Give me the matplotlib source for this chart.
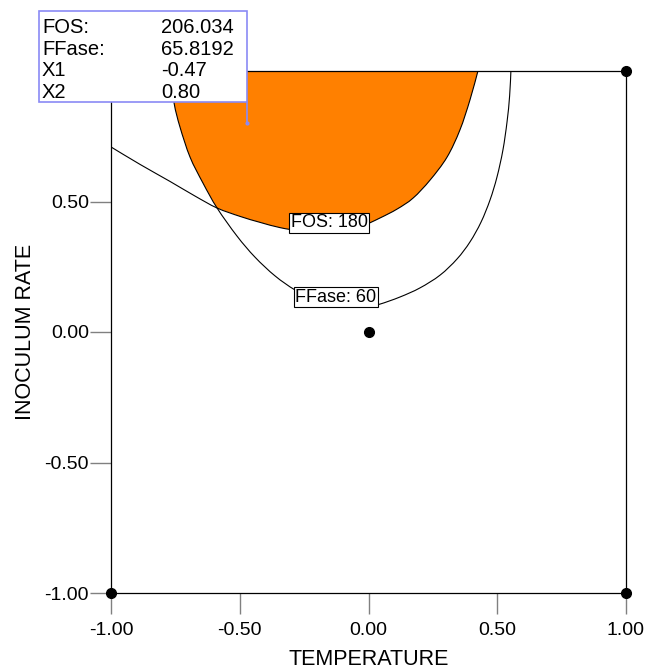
import numpy as np
import matplotlib.pyplot as plt
from matplotlib.patches import Rectangle, PathPatch
from matplotlib.path import Path

plt.rcParams['font.family'] = ['Liberation Sans', 'DejaVu Sans']

# contour FOS = 180
fos_x = [-1.0, -0.887, -0.771, -0.674, -0.588, -0.499, -0.421, -0.344, -0.266, -0.188,
         -0.111, -0.033, 0.045, 0.111, 0.173, 0.239, 0.305, 0.355, 0.394, 0.425]
fos_y = [0.709, 0.642, 0.577, 0.521, 0.475, 0.443, 0.420, 0.400, 0.387, 0.379,
         0.381, 0.402, 0.437, 0.471, 0.513, 0.582, 0.670, 0.774, 0.889, 1.0]

# contour FFase = 60
ffase_x = [-0.771, -0.755, -0.732, -0.693, -0.643, -0.588, -0.511, -0.441, -0.363,
           -0.285, -0.208, -0.130, -0.052, 0.006, 0.045, 0.122, 0.200, 0.278, 0.344,
           0.394, 0.437, 0.472, 0.499, 0.522, 0.538, 0.548, 0.553]
ffase_y = [1.0, 0.877, 0.785, 0.670, 0.571, 0.475, 0.368, 0.287, 0.215,
           0.161, 0.126, 0.103, 0.096, 0.100, 0.107, 0.134, 0.169, 0.218, 0.280,
           0.345, 0.421, 0.506, 0.594, 0.697, 0.805, 0.904, 1.0]

# design points
design_x = [-1.0, 1.0, 1.0, 0.0, -1.0]
design_y = [-1.0, -1.0, 1.0, 0.0, 1.0]

# contour labels
contour_labels = ["FOS: 180", "FFase: 60"]
contour_label_x = [-0.153, -0.126]
contour_label_y = [0.418, 0.134]

# flag
flag_x1 = -0.47
flag_x2 = 0.80
flag_names = ["FOS:", "FFase:", "X1", "X2"]
flag_values = ["206.034", "65.8192", "-0.47", "0.80"]

ticks = [-1.0, -0.5, 0.0, 0.5, 1.0]
x_tick_labels = ["-1.00", "-0.50", "0.00", "0.50", "1.00"]
y_tick_labels = ["-1.00", "-0.50", "0.00", "0.50", ""]  # 1.00 sits under the flag


def smooth_path(xs, ys):
    # bezier through the read points (catmull-rom), only for drawing
    p = np.column_stack([xs, ys])
    ext = np.vstack([p[0], p, p[-1]])
    verts = [p[0]]
    codes = [Path.MOVETO]
    for i in range(len(p) - 1):
        a, b, c, d = ext[i], ext[i + 1], ext[i + 2], ext[i + 3]
        verts += [b + (c - a) / 6, c - (d - b) / 6, c]
        codes += [Path.CURVE4] * 3
    return verts, codes


fig = plt.figure(figsize=(6.6, 6.69), dpi=100)
W, H = 660, 669
ax = fig.add_axes([111 / W, 1 - 593 / H, 515 / W, 522 / H])
ax.set_xlim(-1, 1)
ax.set_ylim(-1, 1)

# feasible region: inside FFase curve, above FOS curve
v1, c1 = smooth_path(ffase_x[:6], ffase_y[:6])
v2, c2 = smooth_path(fos_x[4:], fos_y[4:])
verts = v1 + v2[1:] + [v1[0]]
codes = c1 + c2[1:] + [Path.CLOSEPOLY]
ax.add_patch(PathPatch(Path(verts, codes), facecolor='#ff8000', edgecolor='none', zorder=1))

for xs, ys in [(fos_x, fos_y), (ffase_x, ffase_y)]:
    v, c = smooth_path(xs, ys)
    ax.add_patch(PathPatch(Path(v, c), facecolor='none', edgecolor='black', lw=0.8, zorder=3))

for lab, lx, ly in zip(contour_labels, contour_label_x, contour_label_y):
    ax.text(lx, ly, lab, fontsize=13, ha='center', va='center', zorder=4,
            bbox=dict(boxstyle='square,pad=0.1', facecolor='white',
                      edgecolor='black', lw=0.8))

ax.plot(design_x, design_y, 'o', color='black', ms=7, clip_on=False, zorder=5)

ax.set_xticks(ticks)
ax.set_xticklabels(x_tick_labels)
ax.set_yticks(ticks)
ax.set_yticklabels(y_tick_labels)
ax.tick_params(direction='out', length=15, width=1, color='#808080', labelsize=14)
ax.tick_params(axis='x', pad=6)
ax.tick_params(axis='y', pad=1)
for s in ax.spines.values():
    s.set_linewidth(0.9)

ax.set_xlabel("TEMPERATURE", fontsize=15.5, labelpad=7)
ax.set_ylabel("INOCULUM RATE", fontsize=15.5, labelpad=6)

# flag box, right edge on the flagged point
px_per_x = 515 / 2.0
px_per_y = 522 / 2.0
box_left = flag_x1 - (246 - 38) / px_per_x
box_bottom = 1.0 + (71 - 102) / px_per_y
box_top = 1.0 + (71 - 11) / px_per_y
flag_col = '#8a8af5'
ax.add_patch(Rectangle((box_left, box_bottom), flag_x1 - box_left, box_top - box_bottom,
                       facecolor='white', edgecolor=flag_col, lw=1.2,
                       clip_on=False, zorder=10))
ax.plot([flag_x1, flag_x1], [flag_x2, box_bottom], color=flag_col, lw=1.2,
        clip_on=False, zorder=10)
ax.plot([flag_x1], [flag_x2], 'o', color=flag_col, ms=2, zorder=10)

for i, (n, v) in enumerate(zip(flag_names, flag_values)):
    yb = 1 - (33 + 21.7 * i) / H
    fig.text(42 / W, yb, n, fontsize=14.5, va='baseline', ha='left')
    fig.text(161 / W, yb, v, fontsize=14.5, va='baseline', ha='left')

fig.savefig("out.png", dpi=100)
